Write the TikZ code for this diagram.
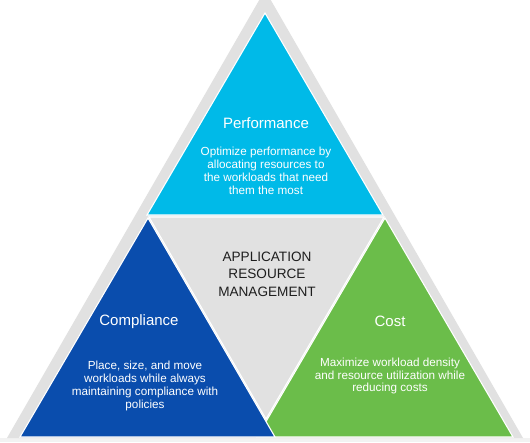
\documentclass[tikz,border=0pt]{standalone}
\usepackage{fontspec}
\setmainfont{Liberation Sans}
\definecolor{perfcyan}{HTML}{00BAE8}
\definecolor{compblue}{HTML}{0A4DAD}
\definecolor{costgreen}{HTML}{6BBD4A}
\definecolor{armgrey}{HTML}{E1E1E1}
\definecolor{armtext}{HTML}{1E1E1E}
\begin{document}
\begin{tikzpicture}[x=1pt,y=-1pt,
    part/.style={draw=white, line width=1.1pt, line join=miter},
    title/.style={text=white, font=\fontsize{15}{18}\selectfont},
    blurb/.style={text=white, align=center, font=\fontsize{11.7}{12.8}\selectfont}]
    \useasboundingbox (0,0) rectangle (530,442);
    \fill[white] (0,0) rectangle (530,442);
    \fill[black!5] (0,438) rectangle (530,442);
    % outer frame and the three parts
    \fill[armgrey] (265,-10) -- (523,438) -- (7,438) -- cycle;
    \draw[part, fill=perfcyan] (265,13) -- (383,215) -- (147,215) -- cycle;
    \draw[part, fill=armgrey] (149,217) -- (384,217) -- (266,419) -- cycle;
    \draw[part, fill=costgreen] (385,218) -- (513,437) -- (257,437) -- cycle;
    \draw[part, fill=compblue] (148,218) -- (275,437) -- (20,437) -- cycle;
    % texts
    \node[title] (perf) at (266,123) {Performance};
    \node[blurb] (perfnote) at (266,171) {Optimize performance by\\allocating resources to\\the workloads that need\\them the most};
    \node[text=armtext, align=center, font=\fontsize{13.6}{17.5}\selectfont] (arm) at (267,274) {APPLICATION\\RESOURCE\\MANAGEMENT};
    \node[title] (comp) at (139,322) {Compliance};
    \node[blurb] (compnote) at (145,386) {Place, size, and move\\workloads while always\\maintaining compliance with\\policies};
    \node[title] (cost) at (390,321) {Cost};
    \node[blurb] (costnote) at (390,376) {Maximize workload density\\and resource utilization while\\reducing costs};
\end{tikzpicture}
\end{document}
